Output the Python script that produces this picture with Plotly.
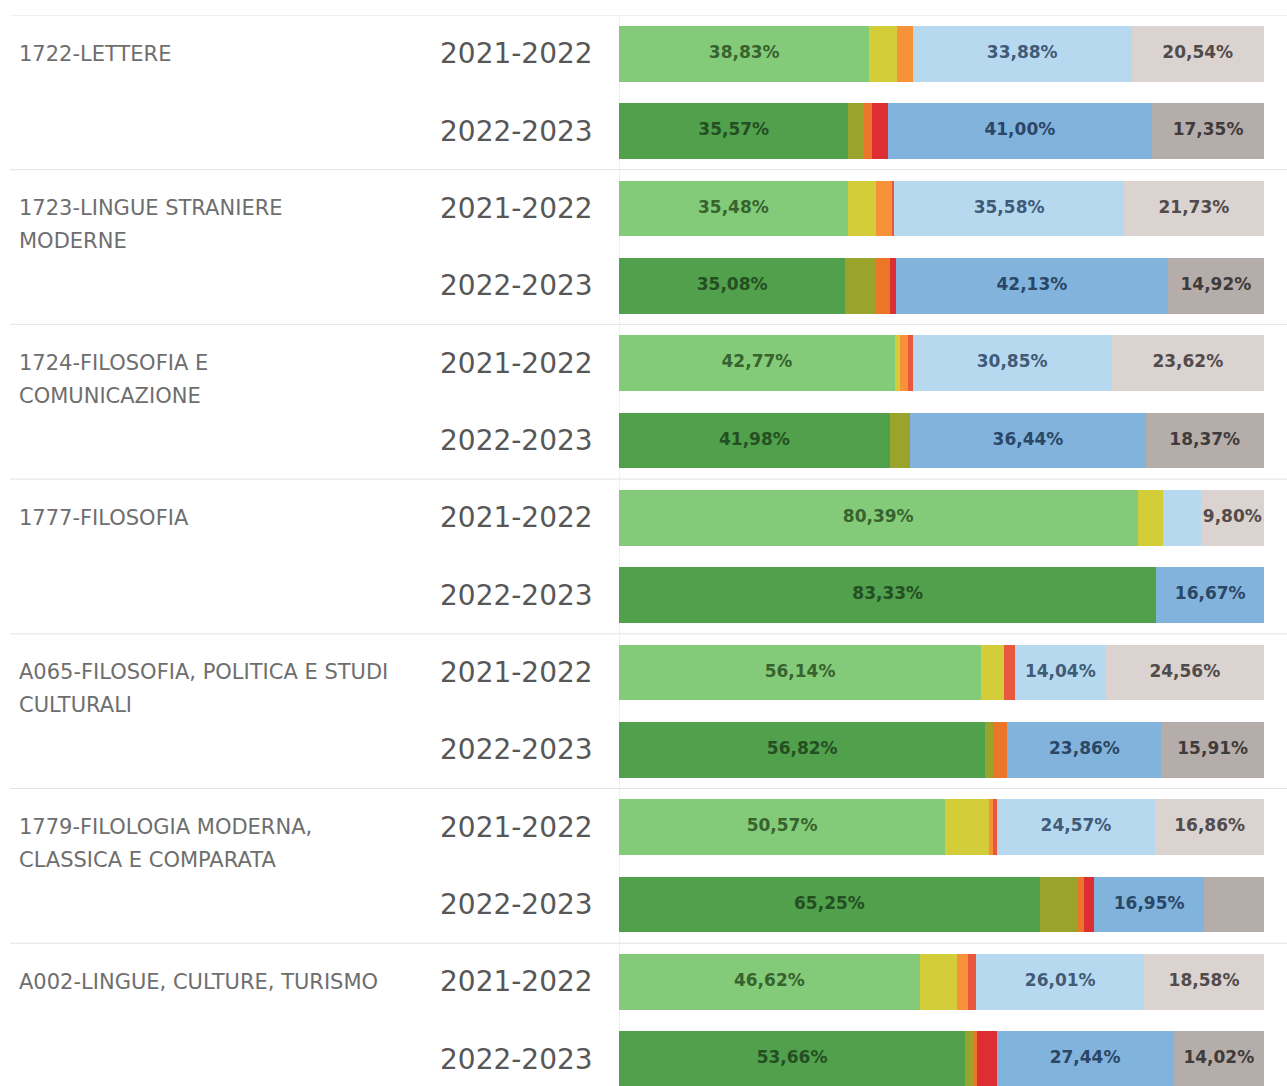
import plotly.graph_objects as go

# Courses (row blocks) and their wrapped label lines
courses = [
    "1722-LETTERE",
    "1723-LINGUE STRANIERE MODERNE",
    "1724-FILOSOFIA E COMUNICAZIONE",
    "1777-FILOSOFIA",
    "A065-FILOSOFIA, POLITICA E STUDI CULTURALI",
    "1779-FILOLOGIA MODERNA, CLASSICA E COMPARATA",
    "A002-LINGUE, CULTURE, TURISMO",
]
course_lines = [
    ["1722-LETTERE"],
    ["1723-LINGUE STRANIERE", "MODERNE"],
    ["1724-FILOSOFIA E", "COMUNICAZIONE"],
    ["1777-FILOSOFIA"],
    ["A065-FILOSOFIA, POLITICA E STUDI", "CULTURALI"],
    ["1779-FILOLOGIA MODERNA,", "CLASSICA E COMPARATA"],
    ["A002-LINGUE, CULTURE, TURISMO"],
]
years = ["2021-2022", "2022-2023"]

# Shares (%) per bar: course by course, 2021-2022 then 2022-2023
share_green = [38.83, 35.57, 35.48, 35.08, 42.77, 41.98, 80.39, 83.33, 56.14, 56.82, 50.57, 65.25, 46.62, 53.66]
share_yellow = [4.30, 2.35, 4.30, 4.70, 0.80, 3.21, 3.92, 0.00, 3.51, 1.14, 6.86, 5.93, 5.74, 1.22]
share_orange = [2.45, 1.35, 2.60, 2.20, 1.20, 0.00, 0.00, 0.00, 0.00, 2.27, 0.57, 0.85, 1.69, 0.61]
share_red = [0.00, 2.38, 0.31, 0.97, 0.76, 0.00, 0.00, 0.00, 1.75, 0.00, 0.57, 1.69, 1.35, 3.05]
share_blue = [33.88, 41.00, 35.58, 42.13, 30.85, 36.44, 5.88, 16.67, 14.04, 23.86, 24.57, 16.95, 26.01, 27.44]
share_gray = [20.54, 17.35, 21.73, 14.92, 23.62, 18.37, 9.80, 0.00, 24.56, 15.91, 16.86, 9.32, 18.58, 14.02]

segments = [share_green, share_yellow, share_orange, share_red, share_blue, share_gray]

# Segment colours for each academic year (light = 2021-2022, dark = 2022-2023)
colors_by_year = {
    "2021-2022": ["#84cb79", "#d2cd38", "#f7913a", "#e9573c", "#b7d9f0", "#dad3cf"],
    "2022-2023": ["#50a04c", "#9aa32c", "#ec7627", "#dd2f33", "#82b3dd", "#b5adaa"],
}
label_colors_by_year = {
    "2021-2022": ["#37632f", None, None, None, "#405b78", "#514b4b"],
    "2022-2023": ["#244f22", None, None, None, "#2a4766", "#403b3b"],
}
LABEL_MIN = 9.5  # smaller segments carry no label

n_courses = len(courses)
bar_year = [years[j] for i in range(n_courses) for j in range(2)]
bar_y = [2 * i + 0.5 + j for i in range(n_courses) for j in range(2)]

# Layout geometry (pixels)
W, H = 1287, 1086
L, R, T, B = 619, 23, 15, 0
plot_w = W - L - R
px_per_unit = 77.35
y_bottom = (H - T - B) / px_per_unit

fig = go.Figure()

for k, seg in enumerate(segments):
    fig.add_trace(go.Bar(
        x=seg,
        y=bar_y,
        orientation="h",
        width=0.72,
        marker=dict(color=[colors_by_year[yr][k] for yr in bar_year], line=dict(width=0)),
        hoverinfo="skip",
        showlegend=False,
    ))

# Value labels centred in each large segment
lx, ly, lt, lc = [], [], [], []
for b in range(len(bar_y)):
    start = 0.0
    for k, seg in enumerate(segments):
        v = seg[b]
        if v >= LABEL_MIN and label_colors_by_year[bar_year[b]][k]:
            lx.append(start + v / 2)
            ly.append(bar_y[b])
            lt.append(f"{v:.2f}%".replace(".", ","))
            lc.append(label_colors_by_year[bar_year[b]][k])
        start += v

fig.add_trace(go.Scatter(
    x=lx, y=ly, text=lt, mode="text",
    textposition="middle center",
    textfont=dict(family="DejaVu Sans", size=17, color=lc, weight="bold"),
    hoverinfo="skip", showlegend=False, cliponaxis=False,
))

def px_to_paper(px):
    return (px - L) / plot_w

annotations = []
# Year labels, right-aligned beside each bar
for yv, yr in zip(bar_y, bar_year):
    annotations.append(dict(
        x=px_to_paper(595), xref="paper", y=yv, yref="y",
        text=yr, showarrow=False, xanchor="right", yanchor="middle",
        font=dict(family="DejaVu Sans", size=28, color="#575757"),
    ))
# Course labels, left-aligned on the first bar of each block
line_gap = 33 / px_per_unit
for i, lines in enumerate(course_lines):
    for n, line in enumerate(lines):
        annotations.append(dict(
            x=px_to_paper(17), xref="paper", y=2 * i + 0.5 + n * line_gap, yref="y",
            text=line, showarrow=False, xanchor="left", yanchor="middle",
            font=dict(family="DejaVu Sans", size=21, color="#6e6e6e"),
        ))

shapes = []
# Separators between course blocks
for i in range(n_courses):
    shapes.append(dict(
        type="line", xref="paper", yref="y",
        x0=px_to_paper(10), x1=px_to_paper(W), y0=2 * i, y1=2 * i,
        line=dict(color="#e3e3e3", width=1),
    ))
# Axis rule at the start of the bars
shapes.append(dict(
    type="line", xref="x", yref="y", x0=0, x1=0, y0=0, y1=y_bottom,
    line=dict(color="#e3e3e3", width=1), layer="below",
))

fig.update_layout(
    width=W, height=H,
    margin=dict(l=L, r=R, t=T, b=B, pad=0),
    barmode="stack",
    bargap=0,
    plot_bgcolor="white",
    paper_bgcolor="white",
    xaxis=dict(range=[0, 100], showgrid=False, zeroline=False, showticklabels=False, ticks="", fixedrange=True),
    yaxis=dict(range=[y_bottom, 0], showgrid=False, zeroline=False, showticklabels=False, ticks="", fixedrange=True),
    annotations=annotations,
    shapes=shapes,
)

fig.write_html("out.html")
